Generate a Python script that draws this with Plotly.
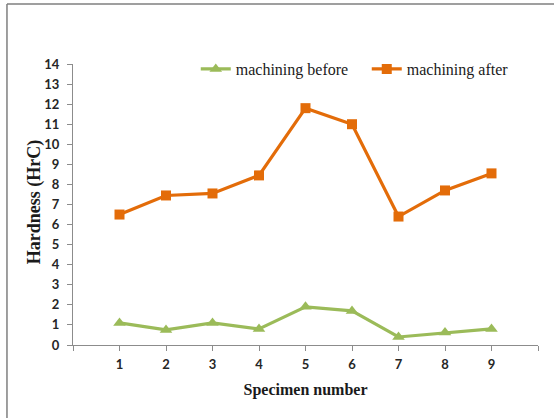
import plotly.graph_objects as go

specimens = [1, 2, 3, 4, 5, 6, 7, 8, 9]
before = [1.1, 0.75, 1.1, 0.8, 1.9, 1.7, 0.4, 0.62, 0.8]
after = [6.5, 7.45, 7.55, 8.45, 11.8, 11.0, 6.4, 7.7, 8.55]
tick_vals = list(range(0, 11))
tick_text = ["", "1", "2", "3", "4", "5", "6", "7", "8", "9", ""]

green = "#9BBB59"
orange = "#E36C09"

fig = go.Figure()
fig.add_trace(go.Scatter(x=specimens, y=before, name="machining before",
                         mode="lines+markers",
                         line=dict(color=green, width=3.2),
                         marker=dict(symbol="triangle-up", size=11, color=green)))
fig.add_trace(go.Scatter(x=specimens, y=after, name="machining after",
                         mode="lines+markers",
                         line=dict(color=orange, width=3.2),
                         marker=dict(symbol="square", size=10, color=orange)))

axis_col = "#8C8C8C"
fig.update_layout(
    width=554, height=418,
    margin=dict(l=73, r=16, t=64, b=73),
    paper_bgcolor="white", plot_bgcolor="white",
    showlegend=True,
    legend=dict(orientation="h", x=0.264, y=0.982, xanchor="left", yanchor="middle",
                font=dict(family="Liberation Serif", size=16, color="#1a1a1a"),
                entrywidth=126, bgcolor="rgba(0,0,0,0)", traceorder="normal"),
    xaxis=dict(range=[0, 10], tickvals=tick_vals, ticktext=tick_text,
               showgrid=False, zeroline=False, showline=True, linecolor=axis_col,
               linewidth=1, ticks="outside", ticklen=5, tickcolor=axis_col,
               ticklabelstandoff=2,
               tickfont=dict(family="Lato", size=13, color="#262626", weight="bold"),
               title=dict(text="Specimen number", standoff=13,
                          font=dict(family="Liberation Serif", size=16, color="#1a1a1a", weight="bold"))),
    yaxis=dict(range=[0, 14], dtick=1, showgrid=False, zeroline=False,
               showline=True, linecolor=axis_col, linewidth=1,
               ticks="outside", ticklen=5, tickcolor=axis_col,
               ticklabelstandoff=5,
               tickfont=dict(family="Lato", size=13, color="#262626", weight="bold")),
    annotations=[
        dict(text="<b>Hardness (HrC)</b>", xref="paper", yref="paper",
             x=-0.084, y=0.511, xanchor="center", yanchor="middle",
             textangle=-90, showarrow=False,
             font=dict(family="Liberation Serif", size=18, color="#1a1a1a")),
    ],
    shapes=[
        dict(type="line", xref="paper", yref="paper", x0=-0.142, x1=1.2, y0=1.2135, y1=1.2135,
             line=dict(color="#7F7F7F", width=1.5)),
        dict(type="line", xref="paper", yref="paper", x0=-0.142, x1=-0.142, y0=1.2135, y1=-0.5,
             line=dict(color="#7F7F7F", width=1.5)),
    ],
)

fig.write_html("out.html", config={"displayModeBar": False},
               post_script="document.body.style.margin='0';")
